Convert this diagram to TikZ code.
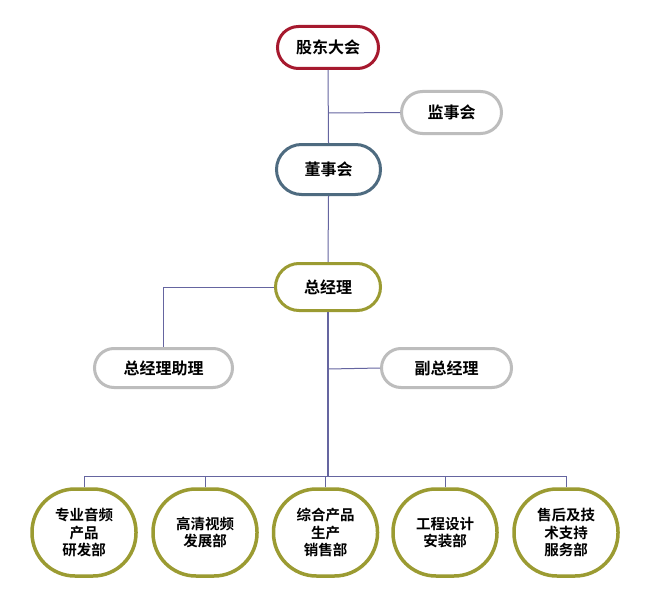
\documentclass[tikz,border=0pt]{standalone}
\usepackage{fontspec}
\setmainfont{Noto Sans CJK SC}[BoldFont={Noto Sans CJK SC Bold}]
\definecolor{linec}{HTML}{6565A0}
\definecolor{crim}{HTML}{A6192E}
\definecolor{slate}{HTML}{4E6B80}
\definecolor{olive}{HTML}{9B9B32}
\definecolor{lgray}{HTML}{BDBDBD}
\begin{document}
\begin{tikzpicture}[x=1pt,y=-1pt]
\tikzset{
  box/.style={draw, fill=white, line width=3pt, align=center, inner sep=0pt,
    font=\bfseries\fontsize{16}{18}\selectfont},
  conn/.style={draw=linec, line width=1pt},
  bigc/.style={box, draw=olive, line width=3.5pt, minimum width=104pt, minimum height=87pt,
    rounded corners=43pt, font=\bfseries\fontsize{14.5}{17.5}\selectfont}
}
\fill[white] (0,0) rectangle (660,607);
\useasboundingbox (0,0) rectangle (660,607);
\coordinate (j1) at (328,113);
\coordinate (j2) at (328,369);
\coordinate (bus) at (328,476);
\node[box, draw=crim, minimum width=101pt, minimum height=42pt, rounded corners=21pt] (gd) at (328,47.5) {股东大会};
\node[box, draw=lgray, minimum width=100pt, minimum height=42pt, rounded corners=21pt] (js) at (451.5,112.5) {监事会};
\node[box, draw=slate, minimum width=104pt, minimum height=50pt, rounded corners=25pt] (ds) at (328.5,169.5) {董事会};
\node[box, draw=olive, minimum width=105pt, minimum height=47pt, rounded corners=23.5pt] (zjl) at (328,287) {总经理};
\node[box, draw=lgray, minimum width=138pt, minimum height=39pt, rounded corners=19.5pt] (zl) at (163.5,368) {总经理助理};
\node[box, draw=lgray, minimum width=130pt, minimum height=39pt, rounded corners=19.5pt] (fz) at (446.5,368) {副总经理};
\node[bigc] (b1) at (84,532.5) {专业音频\\产品\\研发部};
\node[bigc] (b2) at (205,532.5) {高清视频\\发展部};
\node[bigc] (b3) at (325.5,532.5) {综合产品\\生产\\销售部};
\node[bigc] (b4) at (445,532.5) {工程设计\\安装部};
\node[bigc] (b5) at (566,532.5) {售后及技\\术支持\\服务部};
\draw[conn] (gd.south) -- (ds.north);
\draw[conn] (j1) -- (js.west);
\draw[conn] (ds.south) -- (zjl.north);
\draw[conn] (zjl.west) -| (zl.north);
\draw[conn, line width=1.6pt] (zjl.south) -- (bus);
\draw[conn] (j2) -- (fz.west);
\draw[conn] (b1.north) -- (b1.north |- bus) -- (b5.north |- bus) -- (b5.north);
\draw[conn] (b2.north) -- (b2.north |- bus);
\draw[conn] (b3.north) -- (b3.north |- bus);
\draw[conn] (b4.north) -- (b4.north |- bus);
\end{tikzpicture}
\end{document}
